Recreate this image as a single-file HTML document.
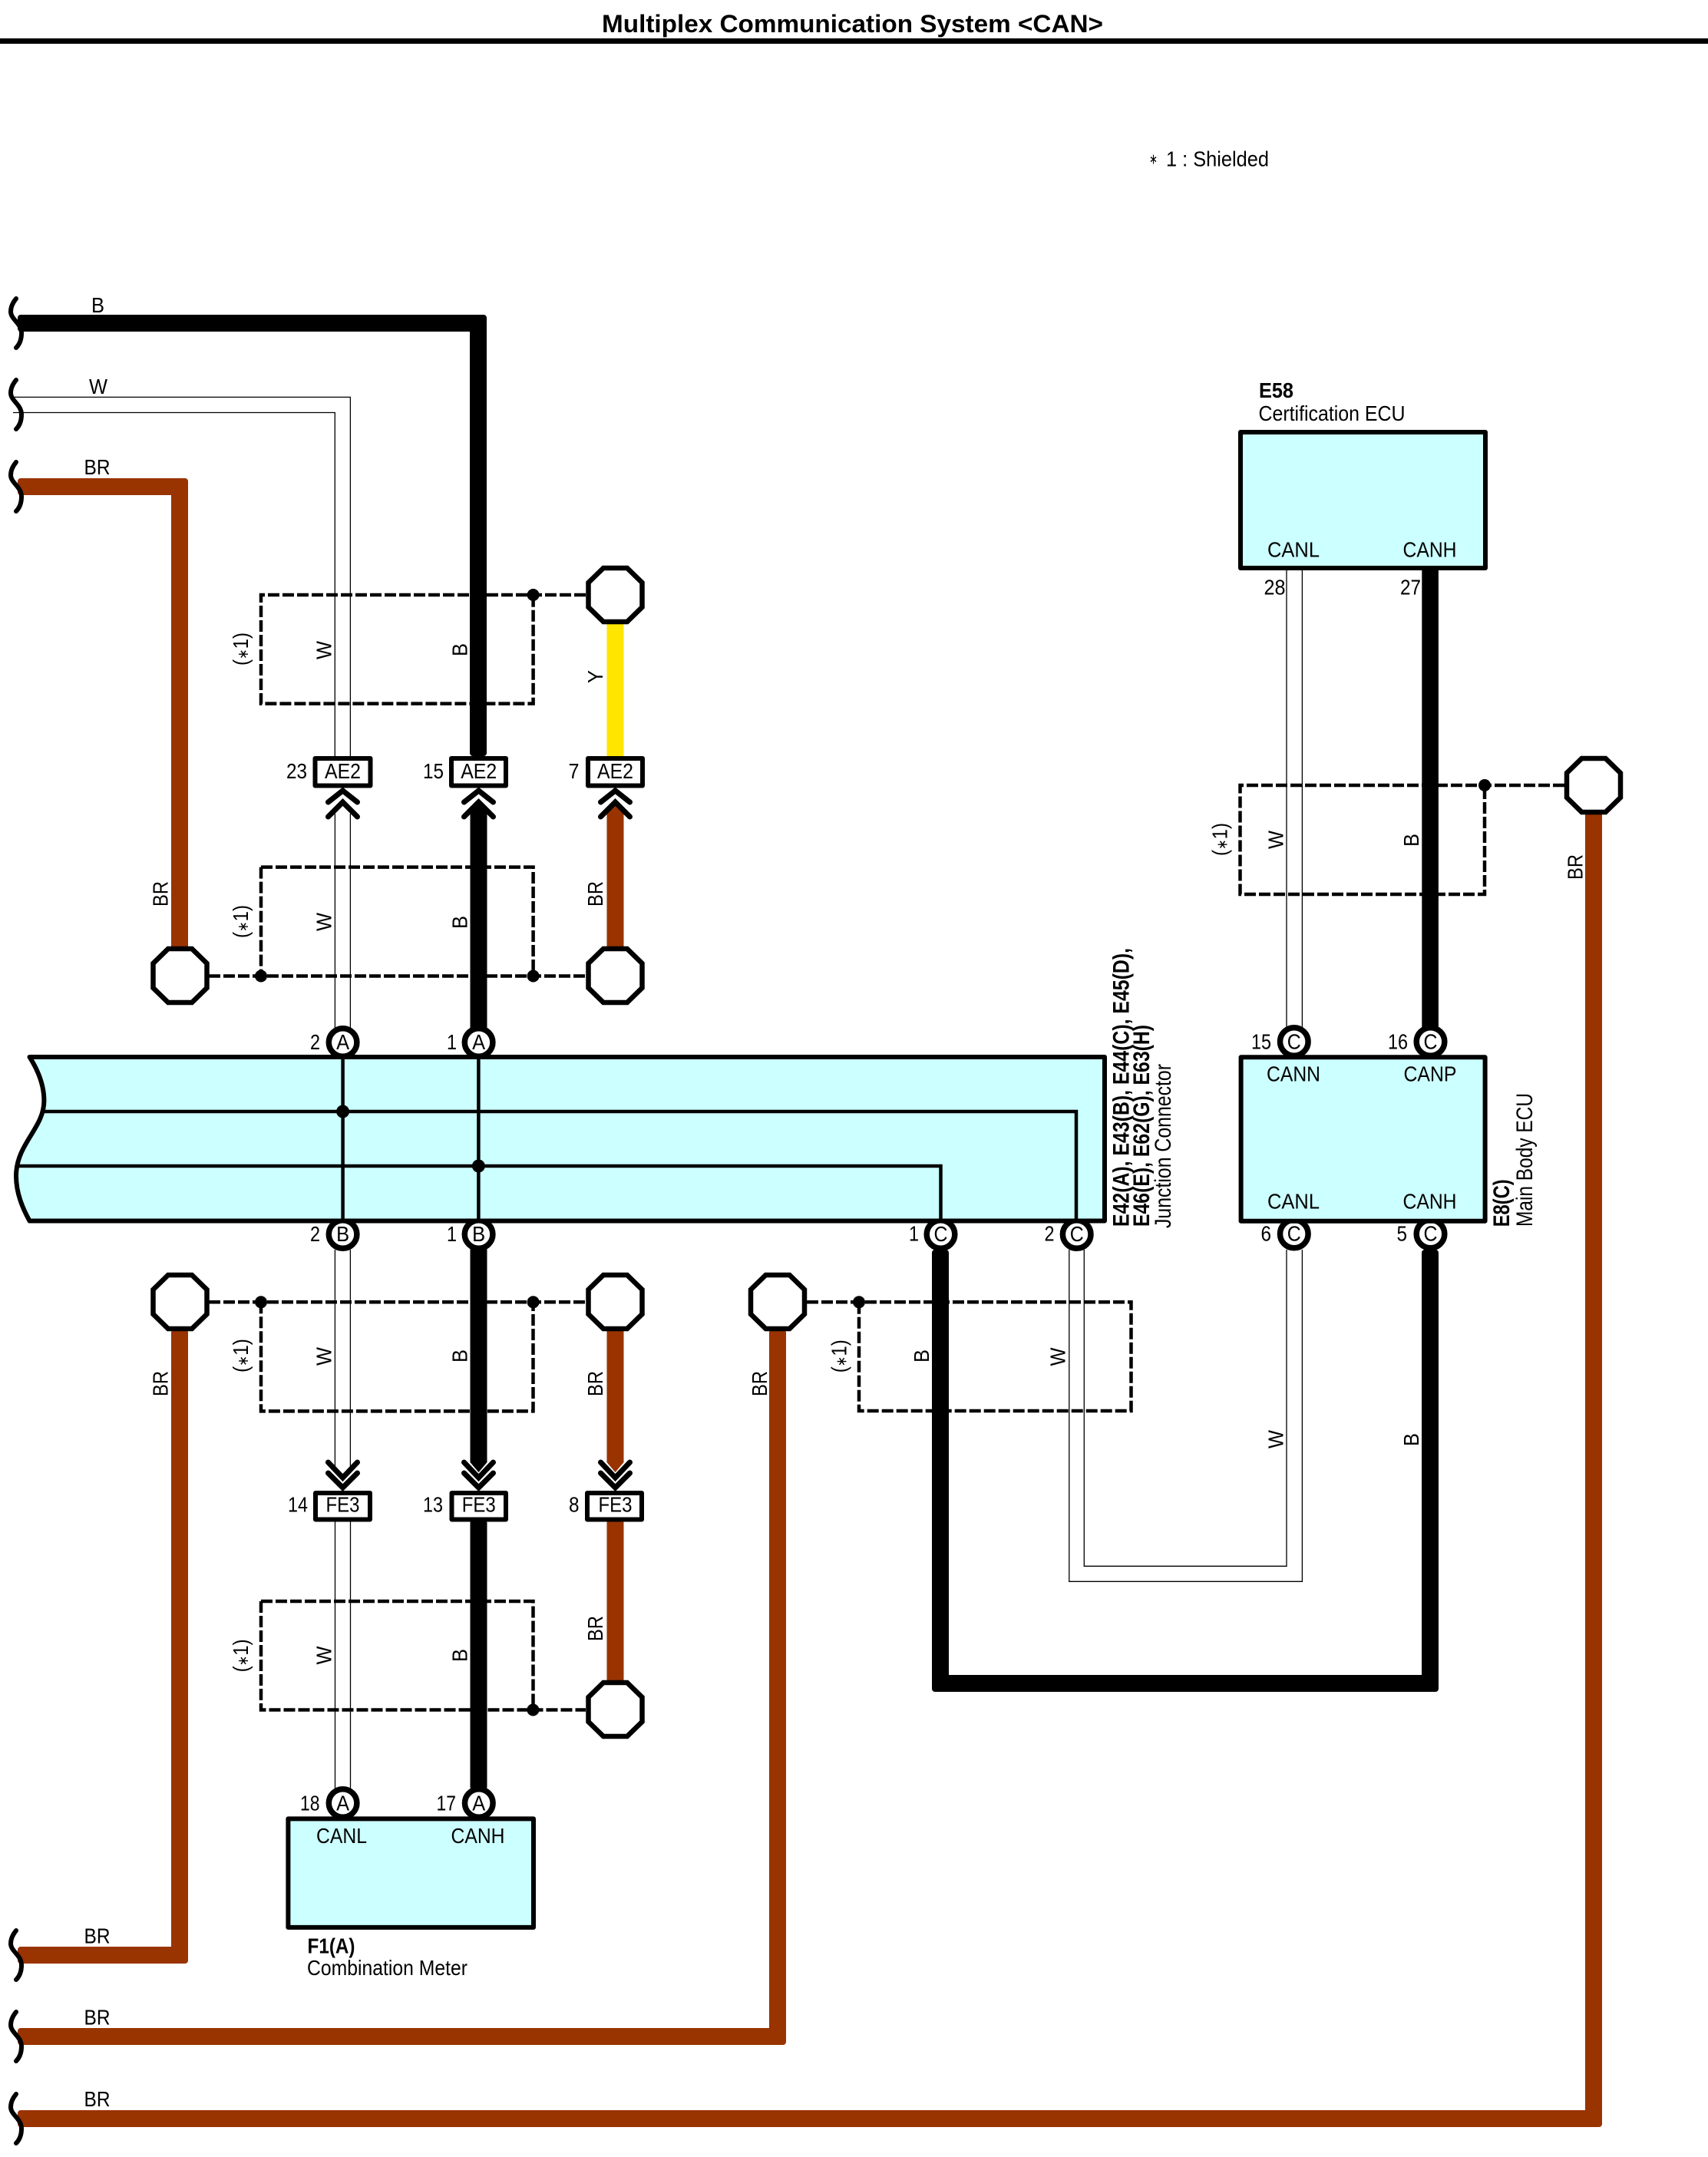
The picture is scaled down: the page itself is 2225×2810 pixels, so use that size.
<!DOCTYPE html>
<html><head><meta charset="utf-8"><style>
html,body{margin:0;padding:0;background:#fff}
svg{display:block}
text{font-family:"Liberation Sans",sans-serif;font-size:28px;fill:#000}
.b{font-weight:bold}
.s{font-size:19px}
.j{font-size:29.5px}
</style></head><body>
<svg xmlns="http://www.w3.org/2000/svg" width="2225" height="2810" viewBox="0 0 2225 2810">
<rect width="2225" height="2810" fill="#fff"/>
<rect x="0" y="50" width="2225" height="7" fill="#000"/>
<text class="b" x="784" y="42" style="font-size:32px" textLength="653" lengthAdjust="spacingAndGlyphs">Multiplex Communication System &lt;CAN&gt;</text>
<text class="s" x="1497" y="213.5" textLength="11" lengthAdjust="spacingAndGlyphs">∗</text>
<text x="1519" y="216.5" textLength="134" lengthAdjust="spacingAndGlyphs">1 : Shielded</text>

<!-- dashed shields -->
<g fill="none" stroke="#000" stroke-width="4.5" stroke-dasharray="15 4">
<path d="M763,775 H340 V916.6 H694.6 V775"/>
<path d="M340,1129.6 H694.6 V1271.5"/><path d="M340,1129.6 V1271.5"/><path d="M272,1271.5 H763"/>
<path d="M272,1696.3 H763"/><path d="M340,1696.3 V1838.4 H694.5 V1696.3"/>
<path d="M340,2086 H694.5 V2227.5"/><path d="M340,2086 V2227.5 H763"/>
<path d="M1051,1696.3 H1473.5 V1838 H1119 V1696.3"/>
<path d="M2038,1023 H1615.5 V1165 H1934 V1023"/>
</g>
<g fill="#000">
<circle cx="694.6" cy="775" r="8"/><circle cx="340" cy="1271.5" r="8"/><circle cx="694.6" cy="1271.5" r="8"/>
<circle cx="340" cy="1696.3" r="8"/><circle cx="694.6" cy="1696.3" r="8"/><circle cx="694.4" cy="2227.5" r="8"/>
<circle cx="1119" cy="1696.3" r="8"/><circle cx="1934" cy="1023" r="8"/>
</g>

<!-- thin W wires -->
<g fill="none" stroke="#000" stroke-width="1.3">
<path d="M17,517.4 H456.4 V985"/><path d="M17,537.5 H436.3 V985"/>
<path d="M436.4,1060 V1340 M456.4,1060 V1340"/>
<path d="M436.4,1628 V1915 M456.4,1628 V1915"/>
<path d="M436.5,1982 V2331 M456.5,1982 V2331"/>
<path d="M1676,740 V1340 M1696.4,740 V1340"/>
<path d="M1392.8,1628 V2060.3 H1696.4 V1628"/>
<path d="M1412.3,1628 V2040.3 H1676 V1628"/>
</g>

<!-- thick wires -->
<g fill="#000" stroke="#000" stroke-width="8" stroke-linejoin="round">
<path d="M27,414 H630 V981 H616 V428 H27 Z"/>
<path d="M1218,1632 H1232 V2186 H1856 V1632 H1870 V2200 H1218 Z"/>
</g>
<g fill="#993300" stroke="#993300" stroke-width="8" stroke-linejoin="round">
<path d="M27,627 H241 V1235 H227 V641 H27 Z"/>
<path d="M227,1736 H241 V2554 H27 V2540 H227 Z"/>
<path d="M1006,1736 H1020 V2660 H27 V2646 H1006 Z"/>
<path d="M2069,1062 H2083 V2767 H27 V2753 H2069 Z"/>
</g>
<g fill="#000">
<path d="M612.5,1345 V1058 L623.5,1046 L634.5,1058 V1345 Z"/>
<path d="M612.5,1625 H634.5 V1905 L623.5,1918 L612.5,1905 Z"/>
<rect x="612.5" y="1980" width="22" height="352" rx="4"/>
<rect x="1852.3" y="738" width="21.6" height="605" rx="2"/>
</g>
<g fill="#993300">
<path d="M790.5,1236 V1058 L801.5,1046 L812.5,1058 V1236 Z"/>
<path d="M790.5,1732 H812.5 V1905 L801.5,1918 L790.5,1905 Z"/>
<rect x="790.5" y="1980" width="22" height="212" rx="4"/>
</g>
<rect x="790.5" y="810" width="22" height="177" fill="#FFE600"/>

<!-- curls -->
<g fill="none" stroke="#000" stroke-width="6" stroke-linecap="round">
<path d="M21,389 C16,395 14,401 14,406 C14,416 28,421 28,434 C28,443 25,449 21,453"/>
<path d="M21,495 C16,501 14,507 14,512 C14,522 28,527 28,540 C28,549 25,555 21,559"/>
<path d="M21,602 C16,608 14,614 14,619 C14,629 28,634 28,647 C28,656 25,662 21,666"/>
<path d="M21,2515 C16,2521 14,2527 14,2532 C14,2542 28,2547 28,2560 C28,2569 25,2575 21,2579"/>
<path d="M21,2621 C16,2627 14,2633 14,2638 C14,2648 28,2653 28,2666 C28,2675 25,2681 21,2685"/>
<path d="M21,2728 C16,2734 14,2740 14,2745 C14,2755 28,2760 28,2773 C28,2782 25,2788 21,2792"/>
</g>

<!-- octagons -->
<defs><path id="oct" d="M-15.5,-35 H15.5 L35,-16 V16 L15.5,35 H-15.5 L-35,16 V-16 Z" fill="#fff" stroke="#000" stroke-width="6.5" stroke-linejoin="miter"/></defs>
<use href="#oct" x="801.5" y="775"/>
<use href="#oct" x="234.5" y="1271"/>
<use href="#oct" x="801.5" y="1271"/>
<use href="#oct" x="234.5" y="1696"/>
<use href="#oct" x="801.5" y="1696"/>
<use href="#oct" x="801.5" y="2227"/>
<use href="#oct" x="1013" y="1696"/>
<use href="#oct" x="2076" y="1023"/>

<!-- connectors AE2/FE3 -->
<g fill="#fff" stroke="#000" stroke-width="6" stroke-linejoin="round">
<rect x="410.5" y="988" width="72" height="35.5"/>
<rect x="588" y="988" width="71" height="35.5"/>
<rect x="766" y="988" width="71" height="35.5"/>
<rect x="411" y="1945" width="71" height="34.5"/>
<rect x="588.5" y="1945" width="70.5" height="34.5"/>
<rect x="765" y="1945" width="71" height="34.5"/>
</g>
<!-- chevrons -->
<defs>
<path id="up" d="M-19,15 L0,0 L19,15 M-19,34 L0,15 L19,34" fill="none" stroke="#000" stroke-width="7" stroke-linecap="round"/>
<path id="dn" d="M-19,0 L0,20 L19,0 M-19,14 L0,33 L19,14" fill="none" stroke="#000" stroke-width="7" stroke-linecap="round"/>
</defs>
<use href="#up" x="446.5" y="1030"/><use href="#up" x="623.5" y="1030"/><use href="#up" x="801.5" y="1030"/>
<use href="#dn" x="446.5" y="1905"/><use href="#dn" x="623.5" y="1905"/><use href="#dn" x="801.5" y="1905"/>

<!-- pin circles -->
<g fill="#fff" stroke="#000" stroke-width="7.5">
<circle cx="446.6" cy="1358" r="18.3"/><circle cx="623.6" cy="1358" r="18.3"/>
<circle cx="446.6" cy="1608" r="18.3"/><circle cx="623.6" cy="1608" r="18.3"/>
<circle cx="1225.5" cy="1608" r="18.3"/><circle cx="1402.7" cy="1608" r="18.3"/>
<circle cx="1685.8" cy="1357" r="18.3"/><circle cx="1863.5" cy="1357" r="18.3"/>
<circle cx="1685.8" cy="1607.5" r="18.3"/><circle cx="1863.5" cy="1607.5" r="18.3"/>
<circle cx="446.6" cy="2349" r="18.3"/><circle cx="623.8" cy="2349" r="18.3"/>
</g>

<!-- junction bus -->
<path d="M38.5,1377 H1439 V1590.5 H38.5 C30,1575 21,1555 21,1532 C21,1490 57.4,1470 57.4,1434 C57.4,1415 50,1395 38.5,1377 Z" fill="#CCFFFF" stroke="#000" stroke-width="6" stroke-linejoin="round"/>
<g fill="none" stroke="#000" stroke-width="4.5">
<path d="M56,1448 H1402 V1590"/>
<path d="M24,1519 H1225.5 V1590"/>
<path d="M446.6,1377 V1590"/>
<path d="M623.4,1377 V1590"/>
</g>
<g fill="#000"><circle cx="446.6" cy="1448" r="8.5"/><circle cx="623.4" cy="1519" r="8.5"/></g>

<!-- ECU boxes -->
<g fill="#CCFFFF" stroke="#000" stroke-width="6" stroke-linejoin="round">
<rect x="1616" y="563" width="319" height="177"/>
<rect x="1616.6" y="1377.3" width="318" height="213.4"/>
<rect x="375.4" y="2369.4" width="319.6" height="141.5"/>
</g>

<!-- pin letters -->
<g text-anchor="middle">
<text x="446.6" y="1367" textLength="17" lengthAdjust="spacingAndGlyphs">A</text>
<text x="623.6" y="1367" textLength="17" lengthAdjust="spacingAndGlyphs">A</text>
<text x="446.6" y="1617" textLength="17" lengthAdjust="spacingAndGlyphs">B</text>
<text x="623.6" y="1617" textLength="17" lengthAdjust="spacingAndGlyphs">B</text>
<text x="1225.5" y="1617" textLength="18" lengthAdjust="spacingAndGlyphs">C</text>
<text x="1402.7" y="1617" textLength="18" lengthAdjust="spacingAndGlyphs">C</text>
<text x="1685.8" y="1366.7" textLength="18" lengthAdjust="spacingAndGlyphs">C</text>
<text x="1863.5" y="1366.7" textLength="18" lengthAdjust="spacingAndGlyphs">C</text>
<text x="1685.8" y="1616.7" textLength="18" lengthAdjust="spacingAndGlyphs">C</text>
<text x="1863.5" y="1616.7" textLength="18" lengthAdjust="spacingAndGlyphs">C</text>
<text x="446.6" y="2358.4" textLength="17" lengthAdjust="spacingAndGlyphs">A</text>
<text x="623.8" y="2358.4" textLength="17" lengthAdjust="spacingAndGlyphs">A</text>
<text x="446.5" y="1014" textLength="47" lengthAdjust="spacingAndGlyphs">AE2</text>
<text x="623.7" y="1014" textLength="47" lengthAdjust="spacingAndGlyphs">AE2</text>
<text x="801.5" y="1014" textLength="47" lengthAdjust="spacingAndGlyphs">AE2</text>
<text x="446.5" y="1969.5" textLength="44" lengthAdjust="spacingAndGlyphs">FE3</text>
<text x="623.7" y="1969.5" textLength="44" lengthAdjust="spacingAndGlyphs">FE3</text>
<text x="801.5" y="1969.5" textLength="44" lengthAdjust="spacingAndGlyphs">FE3</text>
</g>

<!-- pin numbers -->
<g>
<text x="373" y="1014" textLength="27" lengthAdjust="spacingAndGlyphs">23</text>
<text x="551" y="1014" textLength="27" lengthAdjust="spacingAndGlyphs">15</text>
<text x="740.5" y="1014" textLength="14" lengthAdjust="spacingAndGlyphs">7</text>
<text x="404" y="1367" textLength="13" lengthAdjust="spacingAndGlyphs">2</text>
<text x="582" y="1367" textLength="13" lengthAdjust="spacingAndGlyphs">1</text>
<text x="404" y="1617" textLength="13" lengthAdjust="spacingAndGlyphs">2</text>
<text x="582" y="1617" textLength="13" lengthAdjust="spacingAndGlyphs">1</text>
<text x="375" y="1969.5" textLength="26" lengthAdjust="spacingAndGlyphs">14</text>
<text x="551" y="1969.5" textLength="26" lengthAdjust="spacingAndGlyphs">13</text>
<text x="741" y="1969.5" textLength="13.5" lengthAdjust="spacingAndGlyphs">8</text>
<text x="391" y="2358.4" textLength="25.5" lengthAdjust="spacingAndGlyphs">18</text>
<text x="568.5" y="2358.4" textLength="25.5" lengthAdjust="spacingAndGlyphs">17</text>
<text x="1184" y="1616.7" textLength="13" lengthAdjust="spacingAndGlyphs">1</text>
<text x="1360.5" y="1616.7" textLength="13" lengthAdjust="spacingAndGlyphs">2</text>
<text x="1630" y="1366.7" textLength="26" lengthAdjust="spacingAndGlyphs">15</text>
<text x="1808" y="1366.7" textLength="26" lengthAdjust="spacingAndGlyphs">16</text>
<text x="1642.5" y="1616.7" textLength="13.5" lengthAdjust="spacingAndGlyphs">6</text>
<text x="1819.5" y="1616.7" textLength="13.5" lengthAdjust="spacingAndGlyphs">5</text>
<text x="1646.5" y="774.5" textLength="28" lengthAdjust="spacingAndGlyphs">28</text>
<text x="1824" y="774.5" textLength="27" lengthAdjust="spacingAndGlyphs">27</text>
</g>

<!-- horizontal wire labels -->
<text x="119" y="407" textLength="17" lengthAdjust="spacingAndGlyphs">B</text>
<text x="116" y="512.8" textLength="24" lengthAdjust="spacingAndGlyphs">W</text>
<text x="109.5" y="618" textLength="34" lengthAdjust="spacingAndGlyphs">BR</text>
<text x="109.5" y="2531.7" textLength="34" lengthAdjust="spacingAndGlyphs">BR</text>
<text x="109.5" y="2637.7" textLength="34" lengthAdjust="spacingAndGlyphs">BR</text>
<text x="109.5" y="2744" textLength="34" lengthAdjust="spacingAndGlyphs">BR</text>

<!-- box labels -->
<text x="1651" y="725.4" textLength="68" lengthAdjust="spacingAndGlyphs">CANL</text>
<text x="1827.5" y="725.4" textLength="70" lengthAdjust="spacingAndGlyphs">CANH</text>
<text class="b" x="1640" y="517.8" textLength="45" lengthAdjust="spacingAndGlyphs">E58</text>
<text x="1639.5" y="548" textLength="191" lengthAdjust="spacingAndGlyphs">Certification ECU</text>
<text x="1650" y="1408.3" textLength="70" lengthAdjust="spacingAndGlyphs">CANN</text>
<text x="1828.5" y="1408.3" textLength="69" lengthAdjust="spacingAndGlyphs">CANP</text>
<text x="1651" y="1574.3" textLength="68" lengthAdjust="spacingAndGlyphs">CANL</text>
<text x="1827.5" y="1574.3" textLength="70" lengthAdjust="spacingAndGlyphs">CANH</text>
<text x="412" y="2401" textLength="66" lengthAdjust="spacingAndGlyphs">CANL</text>
<text x="587.5" y="2401" textLength="70" lengthAdjust="spacingAndGlyphs">CANH</text>
<text class="b" x="400.5" y="2544.4" textLength="62" lengthAdjust="spacingAndGlyphs">F1(A)</text>
<text x="400" y="2573" textLength="209" lengthAdjust="spacingAndGlyphs">Combination Meter</text>

<!-- rotated junction/ECU labels -->
<text class="b j" transform="translate(1470.6,1598) rotate(-90)" textLength="363" lengthAdjust="spacingAndGlyphs">E42(A), E43(B), E44(C), E45(D),</text>
<text class="b j" transform="translate(1497,1598) rotate(-90)" textLength="263" lengthAdjust="spacingAndGlyphs">E46(E), E62(G), E63(H)</text>
<text class="j" transform="translate(1525,1600) rotate(-90)" textLength="214" lengthAdjust="spacingAndGlyphs">Junction Connector</text>
<text class="b j" transform="translate(1966,1598.3) rotate(-90)" textLength="62" lengthAdjust="spacingAndGlyphs">E8(C)</text>
<text class="j" transform="translate(1996,1598) rotate(-90)" textLength="174" lengthAdjust="spacingAndGlyphs">Main Body ECU</text>

<!-- rotated wire labels -->
<g>
<text transform="translate(323,867) rotate(-90)" textLength="43" lengthAdjust="spacingAndGlyphs">(<tspan class="s">∗</tspan>1)</text>
<text transform="translate(323,1222) rotate(-90)" textLength="43" lengthAdjust="spacingAndGlyphs">(<tspan class="s">∗</tspan>1)</text>
<text transform="translate(323,1788) rotate(-90)" textLength="44" lengthAdjust="spacingAndGlyphs">(<tspan class="s">∗</tspan>1)</text>
<text transform="translate(323,2178.4) rotate(-90)" textLength="43" lengthAdjust="spacingAndGlyphs">(<tspan class="s">∗</tspan>1)</text>
<text transform="translate(1102.5,1788.3) rotate(-90)" textLength="43" lengthAdjust="spacingAndGlyphs">(<tspan class="s">∗</tspan>1)</text>
<text transform="translate(1598.5,1115) rotate(-90)" textLength="43" lengthAdjust="spacingAndGlyphs">(<tspan class="s">∗</tspan>1)</text>

<text transform="translate(431.5,859) rotate(-90)" textLength="24" lengthAdjust="spacingAndGlyphs">W</text>
<text transform="translate(431.5,1213) rotate(-90)" textLength="24" lengthAdjust="spacingAndGlyphs">W</text>
<text transform="translate(431.5,1779) rotate(-90)" textLength="24" lengthAdjust="spacingAndGlyphs">W</text>
<text transform="translate(431.5,2168.5) rotate(-90)" textLength="24" lengthAdjust="spacingAndGlyphs">W</text>
<text transform="translate(1387.4,1779.5) rotate(-90)" textLength="24" lengthAdjust="spacingAndGlyphs">W</text>
<text transform="translate(1671.7,1106) rotate(-90)" textLength="24" lengthAdjust="spacingAndGlyphs">W</text>
<text transform="translate(1671.7,1887) rotate(-90)" textLength="24" lengthAdjust="spacingAndGlyphs">W</text>

<text transform="translate(608.5,855) rotate(-90)" textLength="17" lengthAdjust="spacingAndGlyphs">B</text>
<text transform="translate(608.5,1210) rotate(-90)" textLength="17" lengthAdjust="spacingAndGlyphs">B</text>
<text transform="translate(608.5,1775) rotate(-90)" textLength="17" lengthAdjust="spacingAndGlyphs">B</text>
<text transform="translate(608.5,2165) rotate(-90)" textLength="17" lengthAdjust="spacingAndGlyphs">B</text>
<text transform="translate(1210.2,1775) rotate(-90)" textLength="17" lengthAdjust="spacingAndGlyphs">B</text>
<text transform="translate(1848,1103) rotate(-90)" textLength="17" lengthAdjust="spacingAndGlyphs">B</text>
<text transform="translate(1848,1884) rotate(-90)" textLength="17" lengthAdjust="spacingAndGlyphs">B</text>

<text transform="translate(785,890) rotate(-90)" textLength="17" lengthAdjust="spacingAndGlyphs">Y</text>

<text transform="translate(218.7,1181) rotate(-90)" textLength="33" lengthAdjust="spacingAndGlyphs">BR</text>
<text transform="translate(785,1181) rotate(-90)" textLength="33" lengthAdjust="spacingAndGlyphs">BR</text>
<text transform="translate(218.7,1819) rotate(-90)" textLength="33" lengthAdjust="spacingAndGlyphs">BR</text>
<text transform="translate(785,1819) rotate(-90)" textLength="33" lengthAdjust="spacingAndGlyphs">BR</text>
<text transform="translate(785,2138) rotate(-90)" textLength="33" lengthAdjust="spacingAndGlyphs">BR</text>
<text transform="translate(999,1819) rotate(-90)" textLength="33" lengthAdjust="spacingAndGlyphs">BR</text>
<text transform="translate(2061.3,1146) rotate(-90)" textLength="33" lengthAdjust="spacingAndGlyphs">BR</text>
</g>
</svg>
</body></html>
